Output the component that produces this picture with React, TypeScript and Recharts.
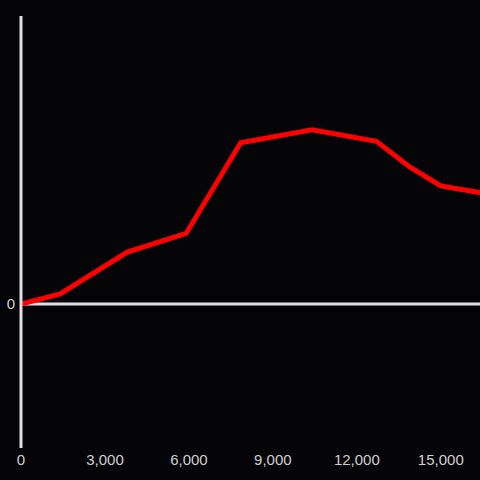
import { LineChart, Line, XAxis, YAxis, ReferenceLine } from "recharts";

// x positions of the samples
const xValues = [0, 1400, 3800, 5900, 7850, 10400, 12700, 13900, 15000, 16500];
// series values
const yValues = [0, 0.07, 0.36, 0.49, 1.12, 1.21, 1.13, 0.95, 0.82, 0.77];
const xTicks = [0, 3000, 6000, 9000, 12000, 15000];
const yTicks = [0];

const data = xValues.map((x, i) => ({ x, y: yValues[i] }));

const BG = "#050407";
const AXIS = "#e0e0e0";
const TEXT = "#d0d0d0";
const FONT = "'Liberation Sans', Arial, sans-serif";

const fmt = (v: number) => v.toLocaleString("en-US");

export default function App() {
  return (
    <div
      style={{
        position: "fixed",
        left: 0,
        top: 0,
        width: 480,
        height: 480,
        background: BG,
        fontFamily: FONT,
      }}
    >
      <LineChart
        width={480}
        height={480}
        data={data}
        margin={{ top: 16, right: 0, left: 0, bottom: 0 }}
      >
        <XAxis
          dataKey="x"
          type="number"
          domain={[0, 16400]}
          ticks={xTicks}
          tickFormatter={fmt}
          axisLine={false}
          tickLine={false}
          height={32}
          tickSize={4}
          tick={{ fill: TEXT, fontSize: 15, fontFamily: FONT }}
          allowDataOverflow
        />
        <YAxis
          type="number"
          domain={[-1, 2]}
          ticks={yTicks}
          width={21}
          tickLine={false}
          tickSize={4}
          tickMargin={2}
          axisLine={{ stroke: AXIS, strokeWidth: 3 }}
          tick={{ fill: TEXT, fontSize: 15, fontFamily: FONT }}
        />
        <ReferenceLine y={0} stroke={AXIS} strokeWidth={3} />
        <Line
          type="linear"
          dataKey="y"
          stroke="#ff0000"
          strokeWidth={5}
          dot={false}
          isAnimationActive={false}
        />
      </LineChart>
    </div>
  );
}
